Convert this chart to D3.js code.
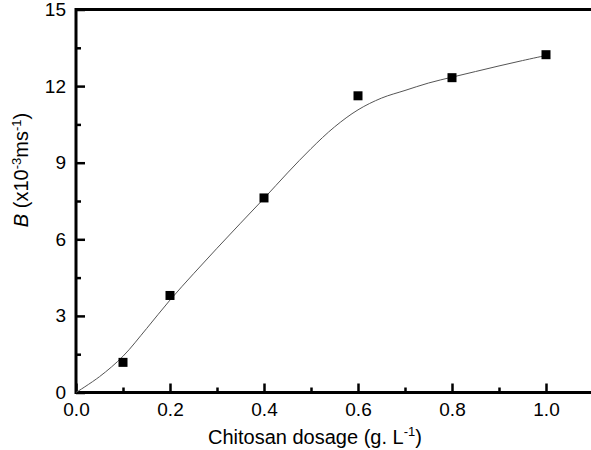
<!DOCTYPE html>
<html>
<head>
<meta charset="utf-8">
<script src="https://cdn.jsdelivr.net/npm/d3@7"></script>
<style>
  body { margin: 0; background: #fff; }
  text { font-family: 'Liberation Sans', Arial, sans-serif; fill: #000; }
</style>
</head>
<body>
<div id="chart"></div>
<script>
// Measured points
const dosage = [0.1, 0.2, 0.4, 0.6, 0.8, 1.0];
const bValues = [1.18, 3.8, 7.62, 11.62, 12.33, 13.23];

// Fitted curve
const fitX = [0, 0.05, 0.1, 0.15, 0.2, 0.25, 0.3, 0.35, 0.4, 0.45, 0.5, 0.55, 0.6, 0.65, 0.7, 0.75, 0.8, 0.85, 0.9, 0.95, 1.0];
const fitY = [0, 0.62, 1.42, 2.5, 3.62, 4.65, 5.65, 6.63, 7.6, 8.6, 9.55, 10.4, 11.07, 11.53, 11.83, 12.12, 12.35, 12.57, 12.79, 13.0, 13.2];

const xTicks = [0, 0.2, 0.4, 0.6, 0.8, 1.0];
const xMinor = [0.1, 0.3, 0.5, 0.7, 0.9];
const yTicks = [0, 3, 6, 9, 12, 15];
const yMinor = [1.5, 4.5, 7.5, 10.5, 13.5];

const width = 591;
const height = 450;
const font = "'Liberation Sans', Arial, sans-serif";

const svg = d3
  .select('#chart')
  .append('svg')
  .attr('width', width)
  .attr('height', height);

// Chart scales
const x = d3.scaleLinear().domain([0, 1.1]).range([76, 593]);
const y = d3.scaleLinear().domain([0, 15]).range([392.5, 9.5]);

// x-axis, ticks pointing inward
svg
  .append('g')
  .attr('class', 'axis')
  .attr('transform', `translate(0, ${y(0)})`)
  .call(d3.axisBottom(x).tickValues(xTicks).tickSize(-9).tickPadding(10).tickFormat(d3.format('.1f')));
svg
  .append('g')
  .attr('class', 'axis')
  .attr('transform', `translate(0, ${y(0)})`)
  .call(d3.axisBottom(x).tickValues(xMinor).tickSize(-5).tickFormat(''));

// y-axis
svg
  .append('g')
  .attr('class', 'axis')
  .attr('transform', `translate(${x(0)}, 0)`)
  .call(d3.axisLeft(y).tickValues(yTicks).tickSize(-9).tickPadding(10));
svg
  .append('g')
  .attr('class', 'axis')
  .attr('transform', `translate(${x(0)}, 0)`)
  .call(d3.axisLeft(y).tickValues(yMinor).tickSize(-5).tickFormat(''));

svg.selectAll('.domain').remove();
svg.selectAll('.tick line').attr('stroke-width', 2.5);
svg.selectAll('.axis').attr('font-size', 19).attr('font-family', font);

// Frame lines: left, bottom, top
const frame = svg.append('g').attr('stroke', '#000').attr('stroke-width', 3);
frame.append('line').attr('x1', x(0)).attr('x2', x(0)).attr('y1', y(0) + 1.5).attr('y2', y(15) - 1.5);
frame.append('line').attr('x1', x(0)).attr('x2', width).attr('y1', y(0)).attr('y2', y(0));
frame.append('line').attr('x1', x(0)).attr('x2', width).attr('y1', y(15)).attr('y2', y(15));

// Axis titles
svg
  .append('text')
  .attr('x', 208)
  .attr('y', 444)
  .style('font-size', '20px')
  .html('Chitosan dosage (g. L<tspan dy="-8" font-size="13px">-1</tspan><tspan dy="8">)</tspan>');

svg
  .append('text')
  .attr('transform', 'translate(28, 170) rotate(-90)')
  .attr('text-anchor', 'middle')
  .style('font-size', '20px')
  .html('<tspan font-style="italic">B</tspan> (x10<tspan dy="-7" font-size="13px">-3</tspan><tspan dy="7">ms</tspan><tspan dy="-7" font-size="13px">-1</tspan><tspan dy="7">)</tspan>');

// Fitted curve
const fit = fitX.map((v, i) => [v, fitY[i]]);
svg
  .append('path')
  .datum(fit)
  .attr('fill', 'none')
  .attr('stroke', '#555')
  .attr('stroke-width', 1)
  .attr(
    'd',
    d3
      .line()
      .x((d) => x(d[0]))
      .y((d) => y(d[1]))
      .curve(d3.curveCatmullRom)
  );

// Data markers
svg
  .selectAll('.pt')
  .data(dosage)
  .enter()
  .append('rect')
  .attr('class', 'pt')
  .attr('x', (d) => x(d) - 4.5)
  .attr('y', (d, i) => y(bValues[i]) - 4.5)
  .attr('width', 9)
  .attr('height', 9)
  .attr('fill', '#000');
</script>
</body>
</html>
